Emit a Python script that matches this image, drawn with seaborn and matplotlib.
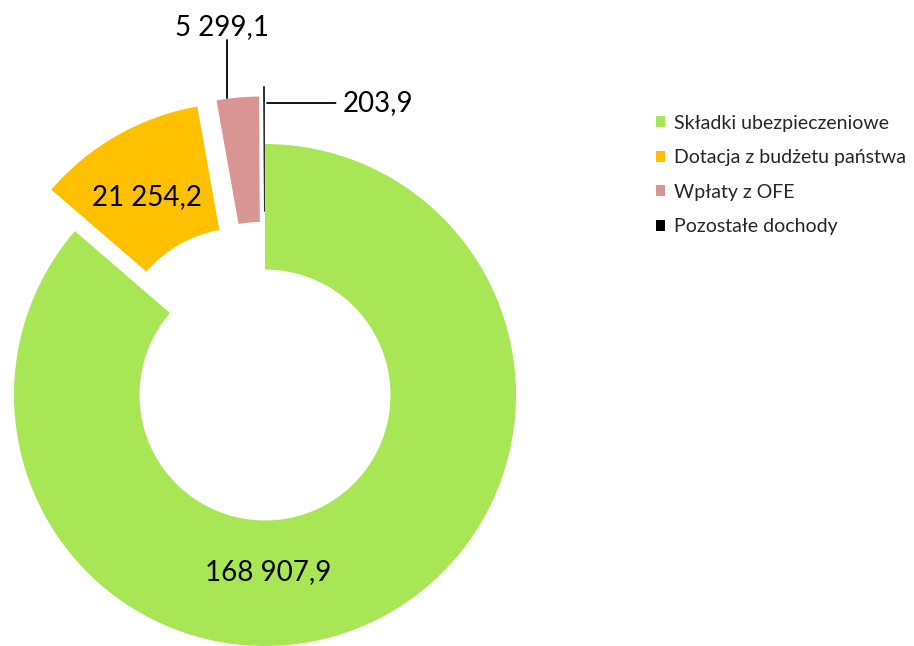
import matplotlib
matplotlib.use("Agg")
import matplotlib.pyplot as plt
import seaborn as sns

# data (mln zł)
categories = ["Składki ubezpieczeniowe", "Dotacja z budżetu państwa",
              "Wpłaty z OFE", "Pozostałe dochody"]
values = [168907.9, 21254.2, 5299.1, 203.9]
value_labels = ["168 907,9", "21 254,2", "5 299,1", "203,9"]
colors = ["#A9E655", "#FFC000", "#D99594", "#000000"]
explode = [0.0, 0.19, 0.19, 0.23]

sns.set_theme(style="white")
plt.rcParams["font.family"] = ["Lato", "DejaVu Sans"]

W, H = 914, 646
fig = plt.figure(figsize=(W / 100, H / 100), dpi=100)

# donut centre and radius in pixels, axes cover the whole figure
cx, cy, R = 265, 395, 251
ax = fig.add_axes([0, 0, 1, 1])


def px(x, y):
    return ((x - cx) / R, (cy - y) / R)


wedges, _ = ax.pie(values, colors=colors, explode=explode, startangle=90,
                   counterclock=False, radius=1.0,
                   wedgeprops=dict(width=0.5, linewidth=0))

ax.set_xlim(-cx / R, (W - cx) / R)
ax.set_ylim((cy - H) / R, cy / R)
ax.set_aspect("equal")
ax.axis("off")

# value labels
lab_kw = dict(fontsize=20, color="black", ha="center", va="center")
ax.text(*px(268, 572), value_labels[0], **lab_kw)
ax.text(*px(147, 197), value_labels[1], **lab_kw)

# leader lines for the small slices
line_kw = dict(arrowstyle="-", color="black", lw=1.3, shrinkA=0, shrinkB=0)
ax.text(*px(222, 27), value_labels[2], **lab_kw)
ax.annotate("", xy=px(227, 98), xytext=px(227, 40), arrowprops=line_kw)
ax.annotate(value_labels[3], xy=px(267, 103), xytext=px(343, 103),
            ha="left", va="center", fontsize=20, color="black",
            arrowprops=dict(line_kw, shrinkA=3))

# cut-off title at the top edge
fig.text(430 / W, 1 + 7 / H, "(mln zł)", ha="center", va="baseline",
         fontsize=26, fontweight="bold", color="#17406D")

fig.legend(wedges, categories, loc="upper left",
           bbox_to_anchor=(646 / W, 1 - 105 / H), frameon=False,
           fontsize=14, handlelength=0.5, handleheight=0.5,
           handletextpad=0.45, labelspacing=0.9, borderpad=0)

fig.savefig("out.png", dpi=100)
